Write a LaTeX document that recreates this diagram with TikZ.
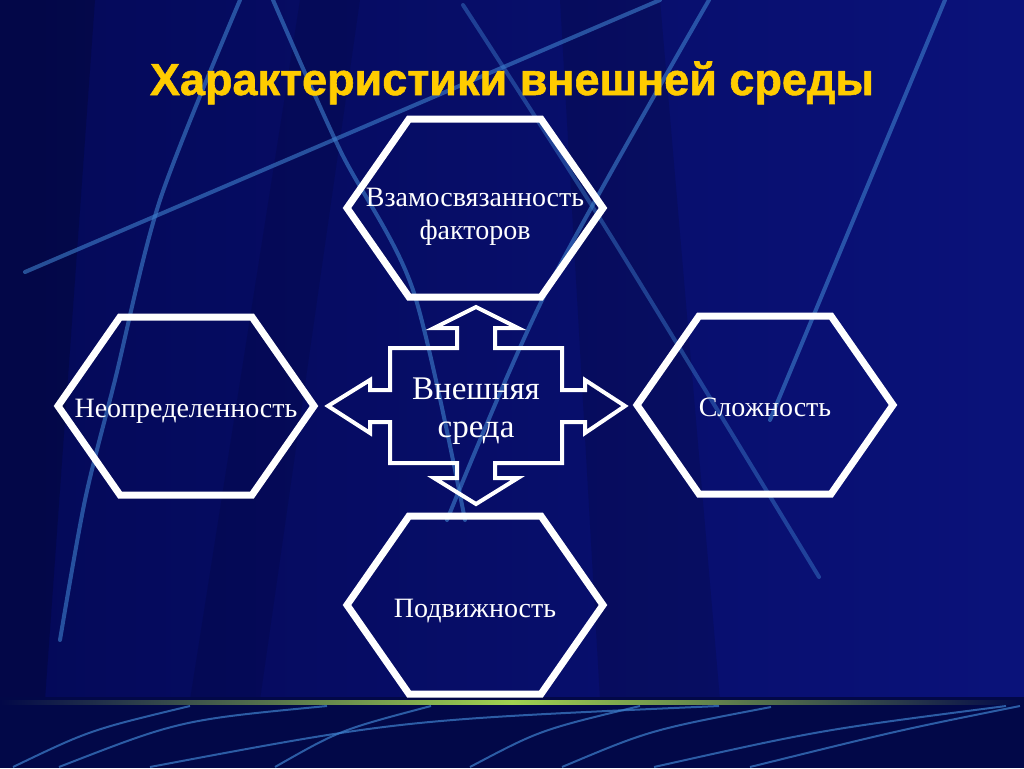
\documentclass[tikz,border=0pt]{standalone}
\usepackage{fontspec}
\setmainfont{Liberation Serif}
\newfontfamily\headfont{Liberation Sans}[BoldFeatures={FakeBold=1.3}]
\usepackage{tikz}
\usetikzlibrary{positioning}
\usetikzlibrary{calc}
\definecolor{bgleft}{RGB}{4,9,88}
\definecolor{bgright}{RGB}{10,18,122}
\definecolor{bandblue}{RGB}{2,8,72}
\definecolor{streakblue}{RGB}{62,128,205}
\definecolor{titleyellow}{RGB}{255,204,0}
\definecolor{limegreen}{RGB}{160,210,80}
\tikzset{hexline/.style={draw=white,line width=7pt,line join=miter}}
\tikzset{crossline/.style={draw=white,line width=4pt,line join=miter}}
\tikzset{streak/.style={draw=streakblue,line width=4pt,opacity=.6,line cap=round}}
\tikzset{thinstreak/.style={draw=streakblue,line width=2pt,opacity=.7}}

\begin{document}
\begin{tikzpicture}
    [
      x=1pt, y=-1pt,
      hexlabel/.style={text=white,inner sep=0pt,
        font=\fontsize{28}{34}\selectfont},
      midlabel/.style={text=white,inner sep=0pt,align=center,
        font=\fontsize{33}{38}\selectfont},
    ]
    \useasboundingbox (0,0) rectangle (1024,768);

    % background
    \shade [left color=bgleft,right color=bgright] (0,0) rectangle (1024,700);
    \fill [black,opacity=.18] (0,0) -- (95,0) -- (45,700) -- (0,700) -- cycle;
    \fill [black,opacity=.12] (560,0) -- (660,0) -- (720,700) -- (600,700) -- cycle;
    \fill [black,opacity=.10] (300,0) -- (360,0) -- (260,700) -- (190,700) -- cycle;
    \draw [streak] (25,272) -- (660,0);
    \draw [streak] plot [smooth] coordinates {(240,0) (160,200) (115,380) (85,500) (60,640)};
    \draw [streak] plot [smooth] coordinates {(273,0) (340,150) (413,290) (465,520)};
    \draw [streak] plot [smooth] coordinates {(709,0) (547,290) (447,520)};
    \draw [streak] (945,0) -- (770,420);
    \draw [streak,opacity=.45] plot [smooth] coordinates {(463,5) (609,233) (819,577)};
    \fill [bandblue] (0,697) rectangle (1024,768);
    \shade [left color=bandblue,right color=limegreen] (0,700) rectangle (512,704);
    \shade [left color=limegreen,right color=bandblue] (512,700) rectangle (1024,704);
    \draw [thinstreak] (13,767) .. controls (90,730) .. (190,706);
    \draw [thinstreak] (59,767) .. controls (180,720) .. (327,706);
    \draw [thinstreak] (150,767) .. controls (400,720) .. (719,706);
    \draw [thinstreak] (275,767) .. controls (340,730) .. (431,706);
    \draw [thinstreak] (470,767) .. controls (540,730) .. (640,706);
    \draw [thinstreak] (562,767) .. controls (650,730) .. (771,707);
    \draw [thinstreak] (654,767) .. controls (820,730) .. (1006,706);
    \draw [thinstreak] (750,767) .. controls (900,730) .. (1020,706);

    % title
    \node [text=titleyellow,anchor=base,inner sep=0pt,
      font=\headfont\bfseries\fontsize{45}{52}\selectfont] (title) at (512,95)
      {Характеристики внешней среды};

    % hexagons
    \coordinate (Hvz) at (475,208);
    \coordinate (Hne) at (186,406);
    \coordinate (Hsl) at (765,405);
    \coordinate (Hpo) at (475,605);
    \foreach \h in {Hvz,Hne,Hsl,Hpo}
    {
    \draw [hexline] (\h) ++(-128,0) -- ++(62,-89) -- ++(132,0) -- ++(62,89)
      -- ++(-62,89) -- ++(-132,0) -- cycle;
    }
    \node [hexlabel,align=center,font=\fontsize{28}{33}\selectfont] (vzaimo) at ($(Hvz)+(0,9)$)
      {Взамосвязанность\\факторов};
    \node [hexlabel,anchor=base] (neopr) at (186,417) {Неопределенность};
    \node [hexlabel,anchor=base] (slozh) at (765,416) {Сложность};
    \node [hexlabel,anchor=base] (podvizh) at (475,617) {Подвижность};

    % cross arrow
    \draw [crossline] (476,307) -- (518,328) -- (495,328) -- (495,348) -- (562,348)
      -- (562,390) -- (585,390) -- (585,380) -- (625,406) -- (585,433) -- (585,422)
      -- (562,422) -- (562,463) -- (495,463) -- (495,478) -- (518,478) -- (476,504)
      -- (434,478) -- (457,478) -- (457,463) -- (390,463) -- (390,422) -- (370,422)
      -- (370,433) -- (328,406) -- (370,380) -- (370,390) -- (390,390) -- (390,348)
      -- (457,348) -- (457,328) -- (434,328) -- cycle;
    \node [midlabel] (sreda) at (476,411) {Внешняя\\среда};

  \end{tikzpicture}
\end{document}
